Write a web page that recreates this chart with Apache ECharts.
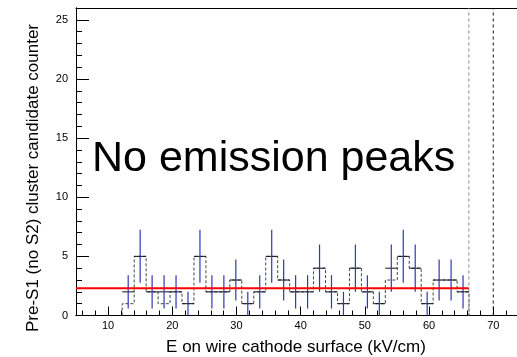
<!DOCTYPE html>
<html>
<head>
<meta charset="utf-8">
<script src="https://cdn.jsdelivr.net/npm/echarts@6/dist/echarts.min.js"></script>
<style>
  html, body { margin: 0; padding: 0; background: #fff; }
  #chart { width: 517px; height: 357px; }
</style>
</head>
<body>
<div id="chart"></div>
<script>
// Histogram binning along the field axis (kV/cm)
const binLow = 12.2;
const binWidth = 1.863;

// Measured counts per bin, with their statistical errors
const dataCounts = [2, 5, 2, 2, 2, 1, 5, 2, 2, 3, 1, 2, 5, 3, 2, 2, 4, 2, 1, 4, 2, 1, 4, 5, 4, 1, 3, 3, 2];
const dataErrors = [1.41, 2.24, 1.41, 1.41, 1.41, 1, 2.24, 1.41, 1.41, 1.73, 1, 1.41, 2.24, 1.73, 1.41, 1.41, 2, 1.41, 1, 2, 1.41, 1, 2, 2.24, 2, 1, 1.73, 1.73, 1.41];

// Reference histogram drawn as a dashed outline
const refCounts = [1, 5, 2, 1, 2, 1, 5, 2, 2, 3, 1, 2, 5, 3, 2, 2, 4, 2, 1, 4, 2, 1, 3, 5, 4, 1, 3, 3, 2];

// Constant fit level and its range
const fitLevel = 2.3;
const fitRange = [5, 66.2];

// Vertical marker lines
const cutLines = [66.2, 70];

// Axis ranges and tick positions (the frame continues past the right edge)
const xRange = [5, 73.7];
const yRange = [0, 26];
const xMajorTicks = [10, 20, 30, 40, 50, 60, 70];
const xMinorTicks = [6, 8, 12, 14, 16, 18, 22, 24, 26, 28, 32, 34, 36, 38, 42, 44, 46, 48, 52, 54, 56, 58, 62, 64, 66, 68, 72];
const yMajorTicks = [0, 5, 10, 15, 20, 25];
const yMinorTicks = [1, 2, 3, 4, 6, 7, 8, 9, 11, 12, 13, 14, 16, 17, 18, 19, 21, 22, 23, 24];

const FONT = 'Liberation Sans, Arial, Helvetica, sans-serif';

const edgeLo = i => binLow + i * binWidth;
const edgeHi = i => binLow + (i + 1) * binWidth;

// Step outline of the reference histogram
const refOutline = [];
refCounts.forEach((v, i) => {
  if (i === 0) refOutline.push([edgeLo(i), 0]);
  refOutline.push([edgeLo(i), v]);
  refOutline.push([edgeHi(i), v]);
  if (i === refCounts.length - 1) refOutline.push([edgeHi(i), 0]);
});

// Points with errors: [center, value, error, low edge, high edge]
const errPoints = dataCounts.map((v, i) => [
  (edgeLo(i) + edgeHi(i)) / 2, v, dataErrors[i], edgeLo(i), edgeHi(i)
]);

const chart = echarts.init(document.getElementById('chart'), null, { renderer: 'canvas' });

const baseX = {
  type: 'value', min: xRange[0], max: xRange[1], position: 'bottom',
  splitLine: { show: false },
  axisLine: { show: true, onZero: false, lineStyle: { color: '#000', width: 1 } }
};
const baseY = {
  type: 'value', min: yRange[0], max: yRange[1], position: 'left',
  splitLine: { show: false },
  axisLine: { show: true, onZero: false, lineStyle: { color: '#000', width: 1 } }
};

chart.setOption({
  animation: false,
  backgroundColor: '#fff',
  grid: {
    left: 76, right: 0, top: 8, bottom: 41.5,
    show: false
  },
  xAxis: [
    Object.assign({}, baseX, {
      axisTick: { show: true, inside: true, length: 9, customValues: xMajorTicks, lineStyle: { color: '#000' } },
      axisLabel: { show: true, customValues: xMajorTicks, margin: 5, color: '#000', fontSize: 11, fontFamily: FONT }
    }),
    Object.assign({}, baseX, {
      axisTick: { show: true, inside: true, length: 5, customValues: xMinorTicks, lineStyle: { color: '#000' } },
      axisLabel: { show: false }
    }),
    // top edge of the frame
    Object.assign({}, baseX, {
      position: 'top',
      axisTick: { show: false },
      axisLabel: { show: false }
    })
  ],
  yAxis: [
    Object.assign({}, baseY, {
      axisTick: { show: true, inside: true, length: 13, customValues: yMajorTicks, lineStyle: { color: '#000' } },
      axisLabel: { show: true, customValues: yMajorTicks, margin: 8, color: '#000', fontSize: 11, fontFamily: FONT }
    }),
    Object.assign({}, baseY, {
      axisTick: { show: true, inside: true, length: 6, customValues: yMinorTicks, lineStyle: { color: '#000' } },
      axisLabel: { show: false }
    })
  ],
  graphic: [
    {
      type: 'text', x: 296, y: 347,
      style: { text: 'E on wire cathode surface (kV/cm)', font: '17px ' + FONT, fill: '#000', textAlign: 'center', textVerticalAlign: 'middle' }
    },
    {
      type: 'text', x: 33, y: 178, rotation: Math.PI / 2,
      style: { text: 'Pre-S1 (no S2) cluster candidate counter', font: '17px ' + FONT, fill: '#000', textAlign: 'center', textVerticalAlign: 'middle' }
    },
    {
      type: 'text', x: 92, y: 159, z: 100,
      style: { text: 'No emission peaks', font: '43px ' + FONT, fill: '#000', textAlign: 'left', textVerticalAlign: 'middle' }
    }
  ],
  series: [
    {
      type: 'line', name: 'reference', xAxisIndex: 0, yAxisIndex: 0,
      data: refOutline, showSymbol: false, symbol: 'none', silent: true,
      lineStyle: { color: '#444', width: 1, type: [3, 2] }, z: 2
    },
    {
      type: 'custom', name: 'data', xAxisIndex: 0, yAxisIndex: 0, silent: true, z: 3,
      encode: { x: [0, 3, 4], y: [1] },
      data: errPoints,
      renderItem: function (params, api) {
        const c = api.value(0), v = api.value(1), e = api.value(2);
        const lo = api.value(3), hi = api.value(4);
        const pl = api.coord([lo, v]), pr = api.coord([hi, v]);
        const pt = api.coord([c, v + e]), pb = api.coord([c, v - e]);
        return {
          type: 'group',
          children: [
            { type: 'line', shape: { x1: pl[0], y1: pl[1], x2: pr[0], y2: pr[1] }, style: { stroke: '#111', lineWidth: 1 } },
            { type: 'line', shape: { x1: pt[0], y1: pt[1], x2: pb[0], y2: pb[1] }, style: { stroke: '#3237b8', lineWidth: 1.2 } }
          ]
        };
      }
    },
    {
      type: 'line', name: 'fit', xAxisIndex: 0, yAxisIndex: 0, silent: true, z: 4,
      data: [[fitRange[0], fitLevel], [fitRange[1], fitLevel]],
      showSymbol: false, symbol: 'none',
      lineStyle: { color: '#ff0000', width: 2 }
    },
    {
      type: 'line', name: 'cut1', xAxisIndex: 0, yAxisIndex: 0, silent: true, z: 2,
      data: [[cutLines[0], yRange[0]], [cutLines[0], yRange[1]]],
      showSymbol: false, symbol: 'none',
      lineStyle: { color: '#888', width: 1, type: [3, 3] }
    },
    {
      type: 'line', name: 'cut2', xAxisIndex: 0, yAxisIndex: 0, silent: true, z: 2,
      data: [[cutLines[1], yRange[0]], [cutLines[1], yRange[1]]],
      showSymbol: false, symbol: 'none',
      lineStyle: { color: '#111', width: 1, type: [3, 3] }
    }
  ]
});
</script>
</body>
</html>
